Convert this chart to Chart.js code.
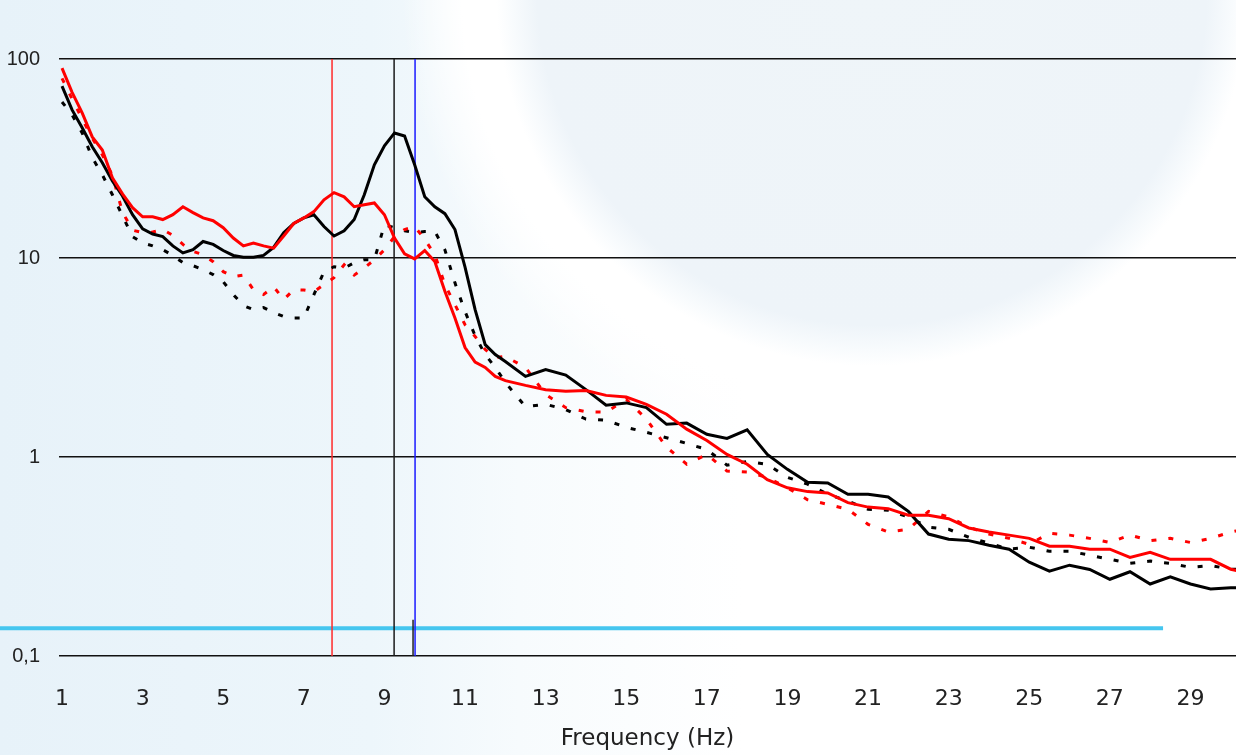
<!DOCTYPE html>
<html>
<head>
<meta charset="utf-8">
<script src="https://cdn.jsdelivr.net/npm/chart.js@4.4.1/dist/chart.umd.min.js"></script>
<style>
  html, body { margin: 0; padding: 0; }
  body {
    width: 1236px; height: 755px; overflow: hidden;
    background:
      radial-gradient(circle at 872px -10px, #eff5f9 0px, #eef4f9 335px, #f8fbfd 360px, #ffffff 376px, #ffffff 410px, rgba(255,255,255,0) 470px),
      linear-gradient(90deg, #e7f2f9 0%, #edf6fb 30%, #f7fbfd 42%, #ffffff 60%, #ffffff 100%);
  }
  #wrap { position: relative; width: 1236px; height: 755px; }
</style>
</head>
<body>
<div id="wrap"><canvas id="c" width="1236" height="755"></canvas></div>
<script>
// ---- data ----
const freqs = [
  1, 1.25, 1.5, 1.75, 2, 2.25, 2.5, 2.75, 3, 3.25, 3.5, 3.75, 4, 4.25, 4.5, 4.75,
  5, 5.25, 5.5, 5.75, 6, 6.25, 6.5, 6.75, 7, 7.25, 7.5, 7.75, 8, 8.25, 8.5, 8.75,
  9, 9.25, 9.5, 9.75, 10, 10.25, 10.5, 10.75, 11, 11.25, 11.5, 11.75, 12,
  12.5, 13, 13.5, 14, 14.5, 15, 15.5, 16, 16.5, 17, 17.5, 18, 18.5, 19, 19.5,
  20, 20.5, 21, 21.5, 22, 22.5, 23, 23.5, 24, 24.5, 25, 25.5, 26, 26.5, 27, 27.5,
  28, 28.5, 29, 29.5, 30, 30.25
];

const blackSolid = [
  73, 55.5, 45.1, 36.2, 30.1, 24.4, 20.5, 16.5, 14.0, 13.2, 12.8, 11.5, 10.6, 11.0, 12.1, 11.7,
  10.9, 10.3, 10.1, 10.1, 10.3, 11.3, 13.4, 14.9, 15.9, 16.5, 14.4, 12.9, 13.7, 15.6, 20.8, 29.4,
  36.6, 42.5, 41, 29.4, 20.3, 18.1, 16.7, 13.9, 9.0, 5.5, 3.67, 3.27, 3.02,
  2.54, 2.75, 2.58, 2.18, 1.82, 1.87, 1.77, 1.46, 1.48, 1.30, 1.24, 1.37, 1.03, 0.867, 0.746,
  0.74, 0.65, 0.65, 0.63, 0.533, 0.41, 0.386, 0.38, 0.36, 0.344, 0.296, 0.267, 0.286, 0.272, 0.243, 0.265,
  0.23, 0.25, 0.23, 0.217, 0.22, 0.22
];

const redSolid = [
  90, 68, 53.6, 40.6, 34.9, 25.3, 21.0, 17.9, 16.1, 16.1, 15.6, 16.5, 18.1, 16.9, 15.9, 15.4,
  14.2, 12.6, 11.5, 11.9, 11.5, 11.2, 12.9, 14.9, 15.9, 17.1, 19.6, 21.3, 20.3, 18.1, 18.5, 18.9,
  16.5, 12.6, 10.5, 9.9, 10.9, 9.6, 6.8, 5.0, 3.55, 3.0, 2.82, 2.54, 2.42,
  2.29, 2.18, 2.14, 2.16, 2.04, 2.0, 1.84, 1.64, 1.38, 1.21, 1.03, 0.92, 0.77, 0.70, 0.67,
  0.66, 0.59, 0.56, 0.55, 0.51, 0.51, 0.49, 0.44, 0.42, 0.405, 0.39, 0.356, 0.356, 0.344, 0.344, 0.313,
  0.332, 0.306, 0.306, 0.306, 0.273, 0.266
];

const blackDashed = [
  60.8, 52.4, 42.5, 31.9, 26.2, 20.8, 16.3, 12.8, 11.9, 11.5, 11.0, 10.3, 9.47, 9.15, 8.74, 8.25,
  7.6, 6.55, 5.77, 5.5, 5.63, 5.32, 5.08, 5.0, 5.0, 6.55, 8.54, 9.04, 8.9, 9.47, 9.8, 9.8,
  14.7, 14.2, 13.7, 13.4, 13.6, 13.6, 11.0, 7.5, 5.38, 4.07, 3.27, 2.82, 2.37,
  1.79, 1.84, 1.73, 1.55, 1.53, 1.41, 1.33, 1.25, 1.17, 1.09, 0.91, 0.95, 0.918, 0.79, 0.73,
  0.65, 0.60, 0.546, 0.54, 0.50, 0.444, 0.433, 0.395, 0.369, 0.344, 0.352, 0.336, 0.336, 0.321, 0.306, 0.292,
  0.30, 0.292, 0.279, 0.285, 0.273, 0.273
];

const redDashed = [
  80, 63, 50, 40, 33, 26, 17, 13.8, 13.4, 13.5, 13.9, 13.0, 11.7, 10.8, 10.4, 9.58,
  8.54, 8.06, 8.2, 6.93, 6.55, 7.18, 6.18, 6.93, 6.9, 6.77, 7.35, 7.97, 9.25, 8.2, 8.9, 9.8,
  11.0, 12.8, 13.9, 14.4, 12.4, 10.4, 7.35, 5.83, 4.62, 4.03, 3.47, 3.16, 3.2,
  2.82, 2.06, 1.77, 1.69, 1.68, 1.95, 1.55, 1.12, 0.92, 1.03, 0.85, 0.84, 0.79, 0.70, 0.61,
  0.578, 0.546, 0.459, 0.42, 0.433, 0.533, 0.50, 0.444, 0.41, 0.39, 0.364, 0.414, 0.405, 0.39, 0.372, 0.405,
  0.38, 0.39, 0.372, 0.39, 0.42, 0.43
];

// vertical markers (frequency in Hz), spanning the value axis
const markerFreqs = [7.7, 9.24, 9.76];
const markerSpan = [0.1, 100];
// short black marker at the bottom
const shortMarkerFreq = 9.71;
const shortMarkerSpan = [0.1, 0.152];
// light blue horizontal reference level
const refLevel = 0.138;
const refLevelFreqs = [-0.55, 28.32];

const xTickValues = [1, 3, 5, 7, 9, 11, 13, 15, 17, 19, 21, 23, 25, 27, 29];
const yTickValues = [0.1, 1, 10, 100];
const yTickLabels = ['0,1', '1', '10', '100'];
const xAxisTitle = 'Frequency (Hz)';

// ---- build datasets ----
const pts = (xs, ys) => xs.map((x, i) => ({ x: x, y: ys[i] }));
const base = { pointRadius: 0, pointHoverRadius: 0, tension: 0, fill: false };

const markerColors = ['#ff2a2a', '#1a1a1a', '#1a1aff'];

const datasets = [
  Object.assign({ label: 'red', data: pts(freqs, redSolid), borderColor: '#ff0000', borderWidth: 3 }, base),
  Object.assign({ label: 'black', data: pts(freqs, blackSolid), borderColor: '#000000', borderWidth: 3 }, base),
  Object.assign({ label: 'red dashed', data: pts(freqs, redDashed), borderColor: '#ff0000', borderWidth: 3, borderDash: [5, 12] }, base),
  Object.assign({ label: 'black dashed', data: pts(freqs, blackDashed), borderColor: '#000000', borderWidth: 3, borderDash: [5, 12] }, base),
];
markerFreqs.forEach((f, i) => {
  datasets.push(Object.assign({
    label: 'marker ' + i,
    data: markerSpan.map(v => ({ x: f, y: v })),
    borderColor: markerColors[i], borderWidth: 1.5
  }, base));
});
datasets.push(Object.assign({
  label: 'short marker',
  data: shortMarkerSpan.map(v => ({ x: shortMarkerFreq, y: v })),
  borderColor: '#222222', borderWidth: 1.5
}, base));
datasets.push(Object.assign({
  label: 'reference',
  data: refLevelFreqs.map(f => ({ x: f, y: refLevel })),
  borderColor: '#45c6ef', borderWidth: 4, clip: false
}, base));

const tickColor = '#222222';

new Chart(document.getElementById('c'), {
  type: 'line',
  data: { datasets: datasets },
  options: {
    responsive: false,
    devicePixelRatio: 1,
    animation: false,
    events: [],
    layout: { padding: { top: 59, left: 0, right: 0, bottom: 0 } },
    plugins: { legend: { display: false }, tooltip: { enabled: false } },
    scales: {
      x: {
        type: 'linear',
        min: 0.925,
        max: 30.13,
        afterBuildTicks: (s) => { s.ticks = xTickValues.map(v => ({ value: v })); },
        afterFit: (s) => { s.height = 99; },
        grid: { display: false, drawTicks: false },
        border: { display: false },
        ticks: {
          autoSkip: false, maxRotation: 0, padding: 30,
          color: tickColor,
          font: { family: "'DejaVu Sans', 'Liberation Sans', sans-serif", size: 22 },
          callback: (v) => String(v)
        },
        title: {
          display: true, text: xAxisTitle, color: tickColor,
          font: { family: "'DejaVu Sans', 'Liberation Sans', sans-serif", size: 23 },
          padding: { top: 0, bottom: 2 }
        }
      },
      y: {
        type: 'logarithmic',
        min: 0.1,
        max: 100,
        afterBuildTicks: (s) => { s.ticks = yTickValues.map(v => ({ value: v })); },
        afterFit: (s) => { s.width = 59; },
        grid: { color: '#111111', lineWidth: 1.6, drawTicks: false },
        border: { display: false },
        ticks: {
          padding: 19,
          color: tickColor,
          font: { family: "'Liberation Sans Narrow', 'Liberation Sans', Arial, sans-serif", size: 20 },
          callback: (v) => { const i = yTickValues.indexOf(v); return i >= 0 ? yTickLabels[i] : ''; }
        }
      }
    }
  }
});
</script>
</body>
</html>
